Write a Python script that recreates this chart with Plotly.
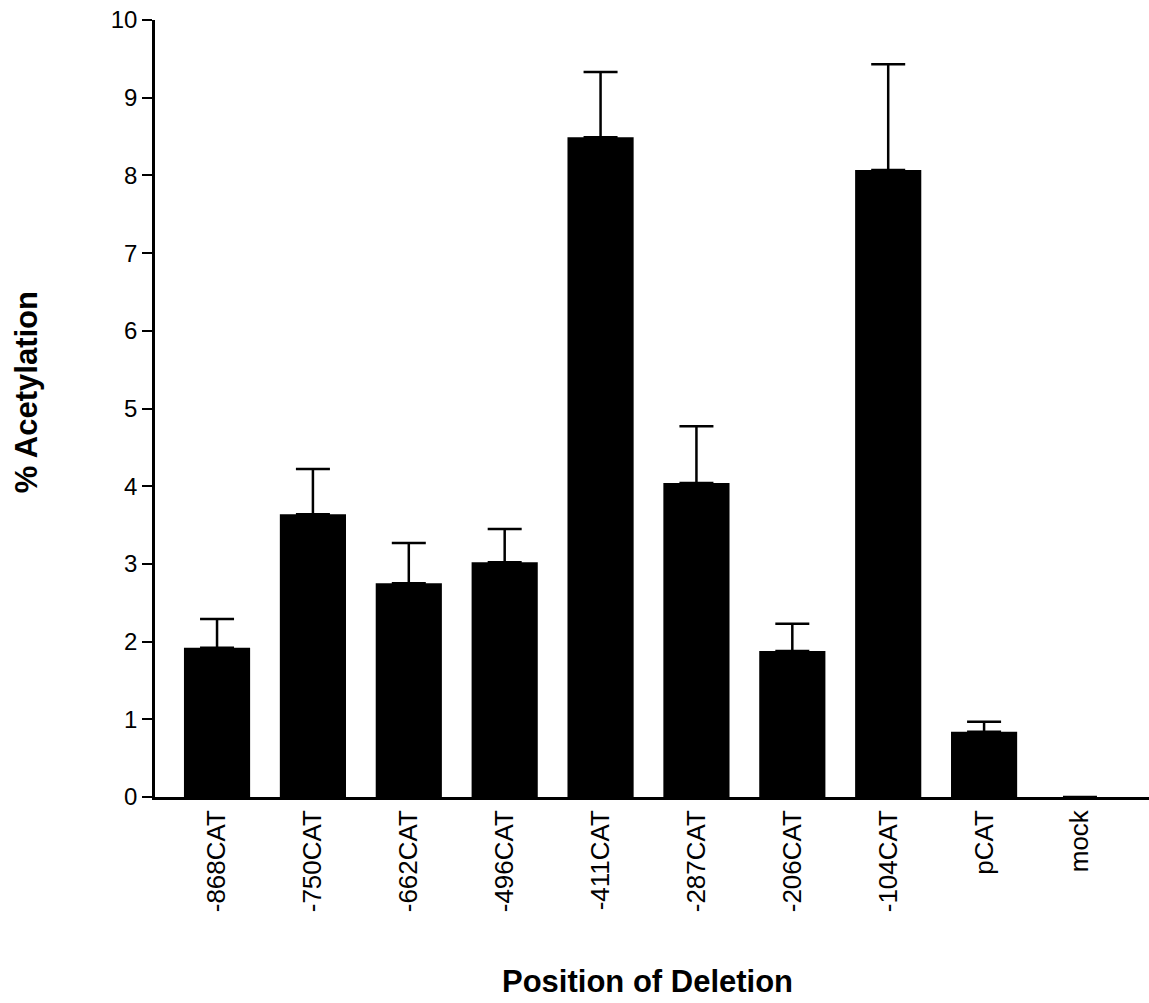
import plotly.graph_objects as go

categories = ["-868CAT", "-750CAT", "-662CAT", "-496CAT", "-411CAT",
              "-287CAT", "-206CAT", "-104CAT", "pCAT", "mock"]
values = [1.92, 3.64, 2.75, 3.02, 8.49, 4.04, 1.88, 8.07, 0.84, 0.0]
errors = [0.37, 0.58, 0.52, 0.43, 0.84, 0.73, 0.35, 1.36, 0.13, 0.0]
y_ticks = [0, 1, 2, 3, 4, 5, 6, 7, 8, 9, 10]

FONT = "Liberation Sans, Arial, Helvetica, sans-serif"

fig = go.Figure()
fig.add_trace(go.Bar(
    x=list(range(len(categories))),
    y=values,
    width=0.69,
    marker=dict(color="black", line=dict(width=0)),
    error_y=dict(type="data", array=errors, arrayminus=[0] * len(errors),
                 symmetric=False, color="black", thickness=2.5, width=17,
                 visible=True),
    showlegend=False,
))

fig.update_layout(
    width=1149, height=1003,
    margin=dict(l=155, r=0, t=20, b=206, autoexpand=False),
    paper_bgcolor="white", plot_bgcolor="white",
    font=dict(family=FONT, color="black", size=24),
    xaxis=dict(
        range=[-0.647, 9.72],
        tickmode="array",
        tickvals=list(range(len(categories))),
        ticktext=categories,
        tickangle=-90,
        ticks="", showgrid=False, zeroline=False,
        showline=True, linecolor="black", linewidth=2.5,
        tickfont=dict(size=26, family=FONT, color="black"),
        ticklabeloverflow="allow",
        automargin=False,
    ),
    yaxis=dict(
        range=[0, 10],
        tickmode="array",
        tickvals=y_ticks,
        ticktext=[str(v) for v in y_ticks],
        ticks="outside", ticklen=10, tickwidth=2, tickcolor="black",
        showgrid=False, zeroline=False,
        showline=True, linecolor="black", linewidth=2.5,
        tickfont=dict(size=24, family=FONT, color="black"),
        ticklabeloverflow="allow",
        automargin=False,
    ),
    annotations=[
        dict(text="<b>% Acetylation</b>", xref="paper", yref="paper",
             x=-0.1298, y=0.521, xanchor="center", yanchor="middle",
             textangle=-90, showarrow=False,
             font=dict(size=31, family=FONT, color="black")),
        dict(text="<b>Position of Deletion</b>", xref="paper", yref="paper",
             x=0.495, y=-0.2369, xanchor="center", yanchor="middle",
             showarrow=False,
             font=dict(size=31, family=FONT, color="black")),
    ],
)

fig.write_html("out.html",
               config={"displayModeBar": False},
               post_script="document.body.style.margin='0';")
